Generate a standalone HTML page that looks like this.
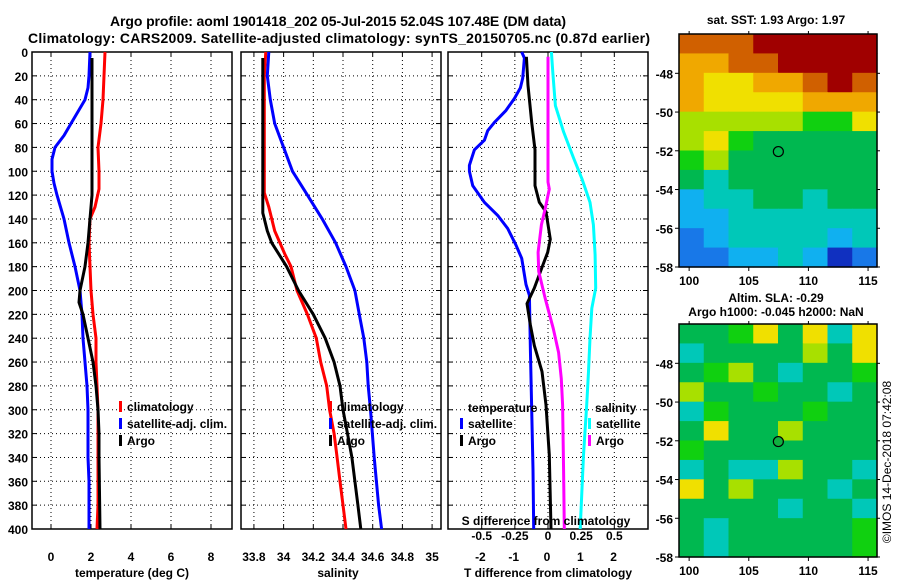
<!DOCTYPE html>
<html><head><meta charset="utf-8"><style>
body{margin:0;background:#fff}
svg{display:block;font-family:"Liberation Sans",Arial,sans-serif;font-weight:bold}
</style></head><body>
<svg id="fig" width="900" height="580" viewBox="0 0 900 580">
<rect width="900" height="580" fill="#fff"/>
<text x="338" y="26" font-size="14" text-anchor="middle" textLength="456">Argo profile: aoml 1901418_202 05-Jul-2015 52.04S 107.48E (DM data)</text>
<text x="339" y="43" font-size="14" text-anchor="middle" textLength="622">Climatology: CARS2009. Satellite-adjusted climatology: synTS_20150705.nc (0.87d earlier)</text>
<text x="776" y="24" font-size="12" text-anchor="middle">sat. SST: 1.93 Argo: 1.97</text>
<text x="776" y="302" font-size="12" text-anchor="middle">Altim. SLA: -0.29</text>
<text x="776" y="316" font-size="12" text-anchor="middle">Argo h1000: -0.045 h2000: NaN</text>
<text transform="translate(891,462) rotate(-90)" font-size="12" font-weight="normal" text-anchor="middle">©IMOS 14-Dec-2018 07:42:08</text>
<g id="plots"></g>
</svg>
<script>
// ---- data ----
const depthTicks = [0,20,40,60,80,100,120,140,160,180,200,220,240,260,280,300,320,340,360,380,400];
const tempTicks = [0,2,4,6,8];
const salTicks = [33.8,34,34.2,34.4,34.6,34.8,35];
const salTickLabels = ["33.8","34","34.2","34.4","34.6","34.8","35"];
const tdiffTicks = [-2,-1,0,1,2];
const sdiffTicks = [-0.5,-0.25,0,0.25,0.5];
const sdiffTickLabels = ["-0.5","-0.25","0","0.25","0.5"];

const tClimDepth = [0,20,40,60,80,100,115,130,140,160,180,200,220,240,260,280,300,320,340,360,380,400];
const tClimVal   = [2.7,2.65,2.6,2.5,2.35,2.4,2.4,2.2,1.95,1.9,1.95,2.0,2.1,2.25,2.25,2.3,2.35,2.35,2.35,2.35,2.35,2.3];
const tSatDepth = [0,20,30,40,50,60,70,80,90,100,110,120,140,160,180,200,220,240,260,280,300,340,360,400];
const tSatVal   = [1.95,1.9,1.85,1.7,1.35,1.0,0.65,0.2,0.05,0.05,0.15,0.3,0.65,0.9,1.2,1.45,1.55,1.6,1.7,1.8,1.85,1.85,1.9,1.9];
const tArgoDepth = [5,20,100,120,140,160,180,200,210,220,240,260,280,300,320,340,400];
const tArgoVal   = [2.05,2.05,2.05,2.05,1.95,1.85,1.7,1.45,1.4,1.6,1.85,2.1,2.25,2.35,2.4,2.4,2.45];

const sClimDepth = [0,20,118,130,150,170,180,200,220,240,260,280,300,320,340,360,380,400];
const sClimVal   = [33.88,33.87,33.87,33.90,33.94,34.01,34.05,34.09,34.16,34.22,34.25,34.29,34.31,34.34,34.36,34.38,34.40,34.42];
const sSatDepth = [0,20,40,60,80,100,120,140,160,180,200,220,240,260,280,300,340,380,400];
const sSatVal   = [33.90,33.89,33.91,33.94,34.0,34.06,34.16,34.26,34.35,34.42,34.48,34.51,34.54,34.56,34.57,34.585,34.61,34.64,34.66];
const sArgoDepth = [5,135,140,150,160,170,180,200,220,240,260,280,300,320,340,360,380,400];
const sArgoVal   = [33.86,33.86,33.87,33.89,33.92,33.97,34.02,34.10,34.20,34.28,34.34,34.38,34.40,34.43,34.46,34.48,34.50,34.52];

const dtSatDepth = [0,5,22,30,39,49,59,66,74,82,95,100,112,126,137,148,162,173,195,204,250,300,350,400];
const dtSatVal   = [-0.76,-0.68,-0.73,-0.8,-0.98,-1.23,-1.58,-1.78,-1.88,-2.18,-2.33,-2.33,-2.23,-1.88,-1.48,-1.18,-0.93,-0.76,-0.63,-0.53,-0.5,-0.46,-0.42,-0.40];
const dtArgoDepth = [4,28,59,82,112,126,134,157,168,179,198,211,229,246,268,296,338,400];
const dtArgoVal   = [-0.62,-0.57,-0.46,-0.36,-0.36,-0.23,-0.03,0.1,0.02,-0.13,-0.38,-0.6,-0.5,-0.38,-0.15,-0.03,0.07,0.12];
const dsSatDepth = [0,17,45,67,89,106,126,145,170,198,215,240,268,296,338,400];
const dsSatVal   = [0.026,0.036,0.056,0.118,0.193,0.255,0.317,0.342,0.355,0.36,0.33,0.317,0.305,0.292,0.268,0.243];
const dsArgoDepth = [4,109,115,131,145,168,184,207,232,252,274,296,352,400];
const dsArgoVal   = [0.0,0.0,0.01,-0.02,-0.05,-0.075,-0.07,-0.02,0.04,0.08,0.1,0.11,0.118,0.123];

const latTicks = [-48,-50,-52,-54,-56,-58];
const lonTicks = [100,105,110,115];
const argoLon = 107.48, argoLat = -52.04;
const sstGrid = [
 [9,9,9,10,10,10,10,10],
 [8,8,9,9,10,10,10,10],
 [8,7,7,8,8,9,10,9],
 [8,7,7,7,7,8,8,8],
 [6,6,6,6,6,5,5,7],
 [6,7,5,4,4,4,4,4],
 [5,6,4,4,4,4,4,4],
 [4,3,4,4,4,4,4,4],
 [2,3,3,4,4,3,4,4],
 [2,2,3,3,3,3,3,3],
 [1,2,3,3,3,3,2,3],
 [1,1,2,2,3,2,0,1]];
const slaGrid = [
 [4,4,5,7,4,7,3,7],
 [3,4,4,4,4,6,4,7],
 [4,5,6,4,3,4,4,5],
 [6,4,4,5,4,4,3,4],
 [3,5,4,4,4,5,4,4],
 [4,7,4,4,6,4,4,4],
 [5,4,4,4,4,4,4,4],
 [3,4,3,3,6,4,4,3],
 [7,4,6,4,4,4,3,4],
 [4,4,4,4,3,4,4,3],
 [4,3,4,4,4,4,4,5],
 [4,3,4,4,4,4,4,5]];
const palette = ["#1030c0","#1878e8","#10b0f0","#00c8b8","#00b850","#10d010","#a8e000","#f0e000","#f0a800","#d06000","#a00000"];

// ---- drawing ----
const NS="http://www.w3.org/2000/svg";
const root=document.getElementById('plots');
function mk(tag,attrs,parent){const e=document.createElementNS(NS,tag);for(const k in attrs)e.setAttribute(k,attrs[k]);(parent||root).appendChild(e);return e;}
const TOP=52,BOT=529;
const TICKY=561, TITLEY=577;
const yD=d=>TOP+(BOT-TOP)*d/400;

function panel(name,x0,x1,xmin,xmax,gridVals){
  const g=mk('g',{});
  
  
  const sx=v=>x0+(x1-x0)*(v-xmin)/(xmax-xmin);
  gridVals.forEach(v=>{const l=mk('line',{x1:sx(v),x2:sx(v),y1:TOP,y2:BOT,stroke:'#000','stroke-width':1,'stroke-dasharray':'1,3'},g);
    });
  depthTicks.forEach(d=>{const l=mk('line',{x1:x0,x2:x1,y1:yD(d),y2:yD(d),stroke:'#000','stroke-width':1,'stroke-dasharray':'1,3'},g);
    
    mk('line',{x1:x0,x2:x0+5,y1:yD(d),y2:yD(d),stroke:'#000'},g);mk('line',{x1:x1-5,x2:x1,y1:yD(d),y2:yD(d),stroke:'#000'},g);});
  gridVals.forEach(v=>{mk('line',{x1:sx(v),x2:sx(v),y1:TOP,y2:TOP+4,stroke:'#000'},g);mk('line',{x1:sx(v),x2:sx(v),y1:BOT-4,y2:BOT,stroke:'#000'},g);});
  const fr=mk('rect',{x:x0,y:TOP,width:x1-x0,height:BOT-TOP,fill:'none',stroke:'#000','stroke-width':1.5},g);
  
  return {g,sx};
}
function series(p,name,depths,vals,sx,color){
  const pts=depths.map((d,i)=>sx(vals[i]).toFixed(1)+','+yD(d).toFixed(1)).join(' ');
  const l=mk('polyline',{points:pts,fill:'none',stroke:color,'stroke-width':3,'stroke-linejoin':'round'},p.g);
  
  
}
function txt(s,x,y,anchor,size,parent,name){const t=mk('text',{x:x,y:y,'text-anchor':anchor||'start','font-size':size||12},parent);t.textContent=s;
  return t;}
function legend(p,x,y,items){items.forEach((it,i)=>{
  const r=mk('rect',{x:x,y:y+i*17-11,width:3,height:11,fill:it[1]},p.g);
  
  txt(it[0],x+8,y+i*17-1,'start',12,p.g,'legend-entry');});}

depthTicks.forEach(d=>txt(String(d),28,yD(d)+5,'end',12,root,'y-tick-label'));

const p1=panel('temperature-panel',32,232,-0.95,9.05,tempTicks);
series(p1,'temp-climatology-line',tClimDepth,tClimVal,p1.sx,'#ff0000');
series(p1,'temp-satellite-line',tSatDepth,tSatVal,p1.sx,'#0000ff');
series(p1,'temp-argo-line',tArgoDepth,tArgoVal,p1.sx,'#000000');
tempTicks.forEach(v=>txt(String(v),p1.sx(v),TICKY,'middle',12,p1.g,'x-tick-label'));
txt('temperature (deg C)',132,TITLEY,'middle',12,p1.g,'x-axis-title');
legend(p1,119,412,[['climatology','#ff0000'],['satellite-adj. clim.','#0000ff'],['Argo','#000000']]);

const p2=panel('salinity-panel',241,441,33.713,35.06,salTicks);
series(p2,'sal-climatology-line',sClimDepth,sClimVal,p2.sx,'#ff0000');
series(p2,'sal-satellite-line',sSatDepth,sSatVal,p2.sx,'#0000ff');
series(p2,'sal-argo-line',sArgoDepth,sArgoVal,p2.sx,'#000000');
salTicks.forEach((v,i)=>txt(salTickLabels[i],p2.sx(v),TICKY,'middle',12,p2.g,'x-tick-label'));
txt('salinity',338,TITLEY,'middle',12,p2.g,'x-axis-title');
legend(p2,329,412,[['climatology','#ff0000'],['satellite-adj. clim.','#0000ff'],['Argo','#000000']]);

const p3=panel('difference-panel',448,648,-0.754,0.754,sdiffTicks);
const sxT=v=>547+v*33.3;
series(p3,'tdiff-satellite-line',dtSatDepth,dtSatVal,sxT,'#0000ff');
series(p3,'tdiff-argo-line',dtArgoDepth,dtArgoVal,sxT,'#000000');
series(p3,'sdiff-satellite-line',dsSatDepth,dsSatVal,p3.sx,'#00ffff');
series(p3,'sdiff-argo-line',dsArgoDepth,dsArgoVal,p3.sx,'#ff00ff');
tdiffTicks.forEach(v=>txt(String(v),sxT(v),TICKY,'middle',12,p3.g,'x-tick-label'));
sdiffTicks.forEach((v,i)=>txt(sdiffTickLabels[i],p3.sx(v),540,'middle',12,p3.g,'s-tick-label'));
txt('S difference from climatology',546,525,'middle',12,p3.g,'s-axis-title');
txt('T difference from climatology',548,TITLEY,'middle',12,p3.g,'x-axis-title');
txt('temperature',468,412,'start',12,p3.g,'legend-title');
legend(p3,460,429,[['satellite','#0000ff'],['Argo','#000000']]);
txt('salinity',595,412,'start',12,p3.g,'legend-title');
legend(p3,588,429,[['satellite','#00ffff'],['Argo','#ff00ff']]);

function map(name,grid,X0,X1,Y0,Y1,markerFill){
  const g=mk('g',{});
  
  
  const lonMin=99.15,lonMax=115.75,latMax=-45.97,latMin=-58;
  const sx=v=>X0+(X1-X0)*(v-lonMin)/(lonMax-lonMin);
  const sy=v=>Y0+(Y1-Y0)*(latMax-v)/(latMax-latMin);
  const nr=grid.length,nc=grid[0].length;
  const dl=(lonMax-lonMin)/nc,dla=(latMax-latMin)/nr;
  grid.forEach((row,r)=>row.forEach((lv,c)=>{
    const x=sx(lonMin+c*dl),y=sy(latMax-r*dla);
    const cell=mk('rect',{x:x.toFixed(2),y:y.toFixed(2),width:(sx(lonMin+(c+1)*dl)-x+0.6).toFixed(2),height:(sy(latMax-(r+1)*dla)-y+0.6).toFixed(2),fill:palette[lv]},g);
    
    
  }));
  const fr=mk('rect',{x:X0,y:Y0,width:X1-X0,height:Y1-Y0,fill:'none',stroke:'#000','stroke-width':1.5},g);
  
  latTicks.forEach(v=>{mk('line',{x1:X0-4,x2:X0,y1:sy(v),y2:sy(v),stroke:'#000'},g);mk('line',{x1:X1,x2:X1+3,y1:sy(v),y2:sy(v),stroke:'#000'},g);
    txt(String(v),X0-6,sy(v)+5,'end',12,g,'lat-tick-label');});
  lonTicks.forEach(v=>{mk('line',{x1:sx(v),x2:sx(v),y1:Y1,y2:Y1+4,stroke:'#000'},g);mk('line',{x1:sx(v),x2:sx(v),y1:Y0-3,y2:Y0,stroke:'#000'},g);
    txt(String(v),sx(v),Y1+18,'middle',12,g,'lon-tick-label');});
  const m=mk('circle',{cx:sx(argoLon),cy:sy(argoLat),r:5,fill:markerFill,stroke:'#000','stroke-width':1.2},g);
  
  
}
map('sst-map',sstGrid,679,877,34,267,'none');
map('sla-map',slaGrid,679,877,324,557,'#10b040');
</script>
</body></html>
